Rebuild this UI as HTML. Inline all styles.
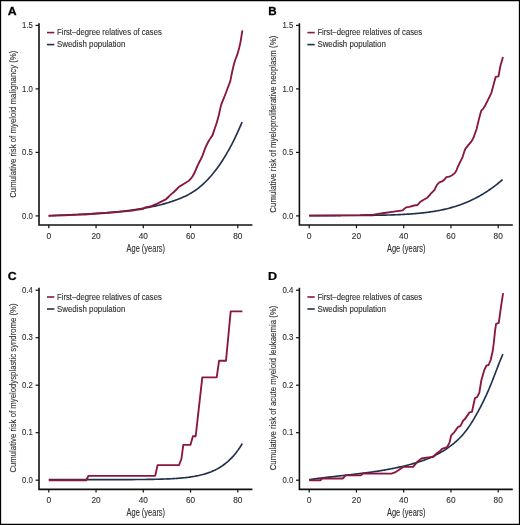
<!DOCTYPE html>
<html><head><meta charset="utf-8"><style>
html,body{margin:0;padding:0;background:#fff;}
#c{position:relative;width:520px;height:525px;overflow:hidden;background:#fff;}
svg{position:absolute;left:0;top:0;filter:blur(0.35px);}
text{font-family:"Liberation Sans", sans-serif;stroke:#303030;stroke-width:0.12px;}
</style></head><body><div id="c">
<svg width="520" height="525" viewBox="0 0 520 525">
<rect x="0" y="0" width="520" height="525" fill="#fff"/>
<g transform="translate(0,0)">
<text transform="translate(7.7,15.2) scale(1.08,1)" x="0" y="0" font-size="11.4" font-weight="bold" fill="#000" style="stroke:#000;stroke-width:0.25px">A</text>
<path d="M39,23.3 V225 H252.4" fill="none" stroke="#111" stroke-width="1.6"/>
<line x1="35.6" y1="25.4" x2="39" y2="25.4" stroke="#111" stroke-width="1.2"/>
<text x="32.9" y="28.2" font-size="9" fill="#303030" text-anchor="end" textLength="10.8" lengthAdjust="spacingAndGlyphs">1.5</text>
<line x1="35.6" y1="88.9" x2="39" y2="88.9" stroke="#111" stroke-width="1.2"/>
<text x="32.9" y="91.7" font-size="9" fill="#303030" text-anchor="end" textLength="10.8" lengthAdjust="spacingAndGlyphs">1.0</text>
<line x1="35.6" y1="152.4" x2="39" y2="152.4" stroke="#111" stroke-width="1.2"/>
<text x="32.9" y="155.2" font-size="9" fill="#303030" text-anchor="end" textLength="10.8" lengthAdjust="spacingAndGlyphs">0.5</text>
<line x1="35.6" y1="215.9" x2="39" y2="215.9" stroke="#111" stroke-width="1.2"/>
<text x="32.9" y="218.7" font-size="9" fill="#303030" text-anchor="end" textLength="10.8" lengthAdjust="spacingAndGlyphs">0.0</text>
<line x1="48.80" y1="225" x2="48.80" y2="228.2" stroke="#111" stroke-width="1.2"/>
<text x="48.80" y="238.6" font-size="9" fill="#303030" text-anchor="middle" textLength="4.8" lengthAdjust="spacingAndGlyphs">0</text>
<line x1="96.05" y1="225" x2="96.05" y2="228.2" stroke="#111" stroke-width="1.2"/>
<text x="96.05" y="238.6" font-size="9" fill="#303030" text-anchor="middle" textLength="9.2" lengthAdjust="spacingAndGlyphs">20</text>
<line x1="143.30" y1="225" x2="143.30" y2="228.2" stroke="#111" stroke-width="1.2"/>
<text x="143.30" y="238.6" font-size="9" fill="#303030" text-anchor="middle" textLength="9.2" lengthAdjust="spacingAndGlyphs">40</text>
<line x1="190.55" y1="225" x2="190.55" y2="228.2" stroke="#111" stroke-width="1.2"/>
<text x="190.55" y="238.6" font-size="9" fill="#303030" text-anchor="middle" textLength="9.2" lengthAdjust="spacingAndGlyphs">60</text>
<line x1="237.80" y1="225" x2="237.80" y2="228.2" stroke="#111" stroke-width="1.2"/>
<text x="237.80" y="238.6" font-size="9" fill="#303030" text-anchor="middle" textLength="9.2" lengthAdjust="spacingAndGlyphs">80</text>
<text x="145.8" y="252" font-size="10.3" fill="#303030" text-anchor="middle" textLength="38.6" lengthAdjust="spacingAndGlyphs">Age (years)</text>
<text transform="translate(15.7,124.2) rotate(-90)" x="0" y="0" font-size="9.5" fill="#303030" text-anchor="middle" textLength="147.2" lengthAdjust="spacingAndGlyphs">Cumulative risk of myeloid malignancy (%)</text>
<line x1="47" y1="32.6" x2="54.3" y2="32.6" stroke="#8a173d" stroke-width="1.6"/>
<line x1="47" y1="44.6" x2="54.3" y2="44.6" stroke="#20304f" stroke-width="1.6"/>
<text x="57.0" y="35.3" font-size="8.2" fill="#303030" textLength="104.8" lengthAdjust="spacingAndGlyphs">First–degree relatives of cases</text>
<text x="57.0" y="47.3" font-size="8.2" fill="#303030" textLength="68.4" lengthAdjust="spacingAndGlyphs">Swedish population</text>
</g>
<path d="M48.80,215.62 L49.80,215.58 L50.80,215.54 L51.80,215.50 L52.80,215.46 L53.80,215.42 L54.80,215.38 L55.80,215.34 L56.80,215.30 L57.80,215.26 L58.80,215.22 L59.80,215.18 L60.80,215.14 L61.80,215.10 L62.80,215.06 L63.80,215.03 L64.80,214.99 L65.80,214.95 L66.80,214.91 L67.80,214.87 L68.80,214.83 L69.80,214.79 L70.80,214.75 L71.80,214.70 L72.80,214.66 L73.80,214.62 L74.80,214.58 L75.80,214.53 L76.80,214.49 L77.80,214.45 L78.80,214.40 L79.80,214.36 L80.80,214.31 L81.80,214.26 L82.80,214.21 L83.80,214.17 L84.80,214.12 L85.80,214.07 L86.80,214.01 L87.80,213.96 L88.80,213.91 L89.80,213.85 L90.80,213.80 L91.80,213.74 L92.80,213.68 L93.80,213.62 L94.80,213.56 L95.80,213.50 L96.80,213.44 L97.80,213.37 L98.80,213.31 L99.80,213.24 L100.80,213.17 L101.80,213.10 L102.80,213.03 L103.80,212.95 L104.80,212.88 L105.80,212.80 L106.80,212.72 L107.80,212.64 L108.80,212.56 L109.80,212.48 L110.80,212.39 L111.80,212.30 L112.80,212.21 L113.80,212.12 L114.80,212.03 L115.80,211.93 L116.80,211.83 L117.80,211.73 L118.80,211.63 L119.80,211.52 L120.80,211.42 L121.80,211.31 L122.80,211.20 L123.80,211.08 L124.80,210.97 L125.80,210.85 L126.80,210.73 L127.80,210.60 L128.80,210.47 L129.80,210.35 L130.80,210.21 L131.80,210.08 L132.80,209.94 L133.80,209.80 L134.80,209.66 L135.80,209.51 L136.80,209.36 L137.80,209.21 L138.80,209.06 L139.80,208.90 L140.80,208.74 L141.80,208.58 L142.80,208.41 L143.80,208.24 L144.80,208.07 L145.80,207.89 L146.80,207.71 L147.80,207.53 L148.80,207.34 L149.80,207.14 L150.80,206.95 L151.80,206.74 L152.80,206.54 L153.80,206.33 L154.80,206.11 L155.80,205.89 L156.80,205.66 L157.80,205.43 L158.80,205.19 L159.80,204.94 L160.80,204.69 L161.80,204.43 L162.80,204.17 L163.80,203.90 L164.80,203.62 L165.80,203.34 L166.80,203.05 L167.80,202.75 L168.80,202.45 L169.80,202.13 L170.80,201.81 L171.80,201.48 L172.80,201.15 L173.80,200.80 L174.80,200.45 L175.80,200.09 L176.80,199.72 L177.80,199.34 L178.80,198.95 L179.80,198.55 L180.80,198.14 L181.80,197.72 L182.80,197.29 L183.80,196.84 L184.80,196.38 L185.80,195.90 L186.80,195.41 L187.80,194.90 L188.80,194.37 L189.80,193.81 L190.80,193.24 L191.80,192.65 L192.80,192.03 L193.80,191.39 L194.80,190.72 L195.80,190.03 L196.80,189.31 L197.80,188.56 L198.80,187.78 L199.80,186.97 L200.80,186.14 L201.80,185.28 L202.80,184.39 L203.80,183.46 L204.80,182.51 L205.80,181.53 L206.80,180.52 L207.80,179.48 L208.80,178.41 L209.80,177.31 L210.80,176.17 L211.80,175.01 L212.80,173.81 L213.80,172.58 L214.80,171.32 L215.80,170.02 L216.80,168.69 L217.80,167.33 L218.80,165.93 L219.80,164.50 L220.80,163.03 L221.80,161.52 L222.80,159.98 L223.80,158.39 L224.80,156.77 L225.80,155.11 L226.80,153.41 L227.80,151.67 L228.80,149.89 L229.80,148.06 L230.80,146.20 L231.80,144.29 L232.80,142.34 L233.80,140.34 L234.80,138.30 L235.80,136.22 L236.80,134.09 L237.80,131.92 L238.80,129.70 L239.80,127.43 L240.80,125.12 L241.80,122.76 L242.10,122.04" fill="none" stroke="#20304f" stroke-width="1.65" stroke-linejoin="round" stroke-linecap="butt"/>
<path d="M48.50,215.90 C51.61,215.78 73.89,214.99 79.60,214.70 C85.31,214.41 101.10,213.33 105.60,213.00 C110.10,212.67 122.16,211.62 124.60,211.40 C127.04,211.18 128.69,210.98 130.00,210.80 C131.31,210.62 136.32,209.83 137.70,209.60 C139.08,209.37 143.03,208.73 143.80,208.50 C144.57,208.27 144.63,207.53 145.40,207.30 C146.17,207.07 150.35,206.55 151.50,206.20 C152.65,205.85 155.82,204.30 156.90,203.80 C157.98,203.30 161.39,201.66 162.30,201.20 C163.21,200.74 165.23,199.78 166.00,199.20 C166.77,198.62 169.09,196.24 170.00,195.40 C170.91,194.56 174.16,191.68 175.10,190.80 C176.04,189.92 178.54,187.28 179.40,186.60 C180.26,185.92 182.75,184.60 183.70,184.00 C184.65,183.40 188.04,181.33 188.90,180.60 C189.76,179.87 191.70,177.56 192.30,176.70 C192.90,175.84 194.39,173.07 194.90,172.00 C195.41,170.93 196.85,167.20 197.40,166.00 C197.95,164.80 199.91,160.98 200.40,160.00 C200.89,159.02 201.78,157.48 202.30,156.20 C202.82,154.92 204.96,148.72 205.60,147.20 C206.24,145.68 208.20,141.93 208.70,141.00 C209.20,140.07 210.23,138.45 210.60,137.90 C210.97,137.35 212.03,136.30 212.40,135.50 C212.77,134.70 213.86,131.21 214.30,129.90 C214.74,128.59 216.37,123.79 216.80,122.40 C217.23,121.01 218.15,117.78 218.60,116.00 C219.05,114.22 220.67,106.65 221.30,104.60 C221.93,102.55 224.27,97.13 224.90,95.50 C225.53,93.87 227.06,89.74 227.60,88.30 C228.14,86.86 229.85,82.73 230.30,81.10 C230.75,79.47 231.65,73.99 232.10,72.00 C232.55,70.01 234.26,63.01 234.80,61.20 C235.34,59.39 236.95,55.71 237.50,53.90 C238.05,52.09 239.81,45.45 240.30,43.10 C240.79,40.75 242.19,31.67 242.40,30.40" fill="none" stroke="#8a173d" stroke-width="1.85" stroke-linejoin="round" stroke-linecap="butt"/>
<g transform="translate(260.4,0)">
<text transform="translate(7.9,15.2) scale(1.02,1)" x="0" y="0" font-size="11.4" font-weight="bold" fill="#000" style="stroke:#000;stroke-width:0.25px">B</text>
<path d="M39,23.3 V225 H252.4" fill="none" stroke="#111" stroke-width="1.6"/>
<line x1="35.6" y1="25.4" x2="39" y2="25.4" stroke="#111" stroke-width="1.2"/>
<text x="32.9" y="28.2" font-size="9" fill="#303030" text-anchor="end" textLength="10.8" lengthAdjust="spacingAndGlyphs">1.5</text>
<line x1="35.6" y1="88.9" x2="39" y2="88.9" stroke="#111" stroke-width="1.2"/>
<text x="32.9" y="91.7" font-size="9" fill="#303030" text-anchor="end" textLength="10.8" lengthAdjust="spacingAndGlyphs">1.0</text>
<line x1="35.6" y1="152.4" x2="39" y2="152.4" stroke="#111" stroke-width="1.2"/>
<text x="32.9" y="155.2" font-size="9" fill="#303030" text-anchor="end" textLength="10.8" lengthAdjust="spacingAndGlyphs">0.5</text>
<line x1="35.6" y1="215.9" x2="39" y2="215.9" stroke="#111" stroke-width="1.2"/>
<text x="32.9" y="218.7" font-size="9" fill="#303030" text-anchor="end" textLength="10.8" lengthAdjust="spacingAndGlyphs">0.0</text>
<line x1="48.80" y1="225" x2="48.80" y2="228.2" stroke="#111" stroke-width="1.2"/>
<text x="48.80" y="238.6" font-size="9" fill="#303030" text-anchor="middle" textLength="4.8" lengthAdjust="spacingAndGlyphs">0</text>
<line x1="96.05" y1="225" x2="96.05" y2="228.2" stroke="#111" stroke-width="1.2"/>
<text x="96.05" y="238.6" font-size="9" fill="#303030" text-anchor="middle" textLength="9.2" lengthAdjust="spacingAndGlyphs">20</text>
<line x1="143.30" y1="225" x2="143.30" y2="228.2" stroke="#111" stroke-width="1.2"/>
<text x="143.30" y="238.6" font-size="9" fill="#303030" text-anchor="middle" textLength="9.2" lengthAdjust="spacingAndGlyphs">40</text>
<line x1="190.55" y1="225" x2="190.55" y2="228.2" stroke="#111" stroke-width="1.2"/>
<text x="190.55" y="238.6" font-size="9" fill="#303030" text-anchor="middle" textLength="9.2" lengthAdjust="spacingAndGlyphs">60</text>
<line x1="237.80" y1="225" x2="237.80" y2="228.2" stroke="#111" stroke-width="1.2"/>
<text x="237.80" y="238.6" font-size="9" fill="#303030" text-anchor="middle" textLength="9.2" lengthAdjust="spacingAndGlyphs">80</text>
<text x="145.8" y="252" font-size="10.3" fill="#303030" text-anchor="middle" textLength="38.6" lengthAdjust="spacingAndGlyphs">Age (years)</text>
<text transform="translate(15.7,124.2) rotate(-90)" x="0" y="0" font-size="9.5" fill="#303030" text-anchor="middle" textLength="176.89999999999998" lengthAdjust="spacingAndGlyphs">Cumulative risk of myeloproliferative neoplasm (%)</text>
<line x1="47" y1="32.6" x2="54.3" y2="32.6" stroke="#8a173d" stroke-width="1.6"/>
<line x1="47" y1="44.6" x2="54.3" y2="44.6" stroke="#20304f" stroke-width="1.6"/>
<text x="57.0" y="35.3" font-size="8.2" fill="#303030" textLength="104.8" lengthAdjust="spacingAndGlyphs">First–degree relatives of cases</text>
<text x="57.0" y="47.3" font-size="8.2" fill="#303030" textLength="68.4" lengthAdjust="spacingAndGlyphs">Swedish population</text>
</g>
<path d="M309.20,215.59 L310.20,215.59 L311.20,215.58 L312.20,215.58 L313.20,215.58 L314.20,215.58 L315.20,215.58 L316.20,215.58 L317.20,215.58 L318.20,215.58 L319.20,215.58 L320.20,215.58 L321.20,215.58 L322.20,215.58 L323.20,215.58 L324.20,215.57 L325.20,215.57 L326.20,215.57 L327.20,215.57 L328.20,215.57 L329.20,215.57 L330.20,215.57 L331.20,215.57 L332.20,215.56 L333.20,215.56 L334.20,215.56 L335.20,215.56 L336.20,215.56 L337.20,215.55 L338.20,215.55 L339.20,215.55 L340.20,215.55 L341.20,215.54 L342.20,215.54 L343.20,215.54 L344.20,215.53 L345.20,215.53 L346.20,215.53 L347.20,215.52 L348.20,215.52 L349.20,215.52 L350.20,215.51 L351.20,215.51 L352.20,215.50 L353.20,215.50 L354.20,215.49 L355.20,215.48 L356.20,215.48 L357.20,215.47 L358.20,215.47 L359.20,215.46 L360.20,215.45 L361.20,215.44 L362.20,215.43 L363.20,215.43 L364.20,215.42 L365.20,215.41 L366.20,215.40 L367.20,215.39 L368.20,215.38 L369.20,215.36 L370.20,215.35 L371.20,215.34 L372.20,215.33 L373.20,215.31 L374.20,215.30 L375.20,215.28 L376.20,215.27 L377.20,215.25 L378.20,215.23 L379.20,215.21 L380.20,215.19 L381.20,215.17 L382.20,215.15 L383.20,215.13 L384.20,215.11 L385.20,215.08 L386.20,215.06 L387.20,215.03 L388.20,215.00 L389.20,214.98 L390.20,214.95 L391.20,214.91 L392.20,214.88 L393.20,214.85 L394.20,214.81 L395.20,214.77 L396.20,214.74 L397.20,214.70 L398.20,214.65 L399.20,214.61 L400.20,214.56 L401.20,214.52 L402.20,214.47 L403.20,214.41 L404.20,214.36 L405.20,214.30 L406.20,214.25 L407.20,214.19 L408.20,214.12 L409.20,214.06 L410.20,213.99 L411.20,213.92 L412.20,213.84 L413.20,213.77 L414.20,213.69 L415.20,213.61 L416.20,213.52 L417.20,213.43 L418.20,213.34 L419.20,213.25 L420.20,213.15 L421.20,213.04 L422.20,212.94 L423.20,212.83 L424.20,212.71 L425.20,212.59 L426.20,212.47 L427.20,212.34 L428.20,212.21 L429.20,212.08 L430.20,211.94 L431.20,211.79 L432.20,211.64 L433.20,211.49 L434.20,211.32 L435.20,211.16 L436.20,210.99 L437.20,210.81 L438.20,210.63 L439.20,210.44 L440.20,210.24 L441.20,210.04 L442.20,209.83 L443.20,209.62 L444.20,209.40 L445.20,209.17 L446.20,208.93 L447.20,208.69 L448.20,208.44 L449.20,208.19 L450.20,207.92 L451.20,207.65 L452.20,207.37 L453.20,207.08 L454.20,206.78 L455.20,206.48 L456.20,206.17 L457.20,205.84 L458.20,205.51 L459.20,205.17 L460.20,204.82 L461.20,204.46 L462.20,204.09 L463.20,203.72 L464.20,203.33 L465.20,202.93 L466.20,202.52 L467.20,202.10 L468.20,201.67 L469.20,201.23 L470.20,200.78 L471.20,200.32 L472.20,199.85 L473.20,199.36 L474.20,198.87 L475.20,198.36 L476.20,197.84 L477.20,197.31 L478.20,196.77 L479.20,196.21 L480.20,195.64 L481.20,195.06 L482.20,194.47 L483.20,193.87 L484.20,193.25 L485.20,192.62 L486.20,191.98 L487.20,191.32 L488.20,190.65 L489.20,189.97 L490.20,189.28 L491.20,188.57 L492.20,187.85 L493.20,187.11 L494.20,186.36 L495.20,185.60 L496.20,184.83 L497.20,184.04 L498.20,183.24 L499.20,182.42 L500.20,181.59 L501.20,180.75 L502.20,179.89 L502.60,179.54" fill="none" stroke="#20304f" stroke-width="1.65" stroke-linejoin="round" stroke-linecap="butt"/>
<path d="M309.2,215.7 L340.0,215.3 L360.0,215.2 L373.5,214.6 L384.2,213.0 L392.3,211.9 L402.7,210.3 L406.1,207.4 L409.4,206.9 L414.2,205.5 L417.6,205.0 L420.0,202.1 L422.9,200.2 L427.2,197.8 L430.6,193.9 L434.4,190.1 L436.9,184.8 L439.3,182.4 L442.1,181.4 L444.5,179.5 L446.4,177.1 L449.3,176.7 L452.1,175.2 L455.0,172.9 L456.4,170.5 L457.9,166.7 L460.2,161.9 L462.6,157.1 L464.0,152.4 L465.5,148.6 L468.3,145.2 L471.7,141.2 L473.5,137.7 L476.6,129.0 L479.5,116.9 L481.3,110.6 L483.1,108.8 L484.9,106.1 L488.5,98.8 L491.2,93.4 L493.9,83.5 L495.7,76.8 L498.5,76.4 L500.3,66.3 L503.0,56.9" fill="none" stroke="#8a173d" stroke-width="1.85" stroke-linejoin="round" stroke-linecap="butt"/>
<g transform="translate(0,264.4)">
<text transform="translate(7.7,15.299999999999999) scale(1.08,1)" x="0" y="0" font-size="11.4" font-weight="bold" fill="#000" style="stroke:#000;stroke-width:0.25px">C</text>
<path d="M39,23.3 V225 H252.4" fill="none" stroke="#111" stroke-width="1.6"/>
<line x1="35.6" y1="25.80000000000001" x2="39" y2="25.80000000000001" stroke="#111" stroke-width="1.2"/>
<text x="32.9" y="28.6" font-size="9" fill="#303030" text-anchor="end" textLength="10.8" lengthAdjust="spacingAndGlyphs">0.4</text>
<line x1="35.6" y1="73.30000000000001" x2="39" y2="73.30000000000001" stroke="#111" stroke-width="1.2"/>
<text x="32.9" y="76.1" font-size="9" fill="#303030" text-anchor="end" textLength="10.8" lengthAdjust="spacingAndGlyphs">0.3</text>
<line x1="35.6" y1="120.80000000000001" x2="39" y2="120.80000000000001" stroke="#111" stroke-width="1.2"/>
<text x="32.9" y="123.6" font-size="9" fill="#303030" text-anchor="end" textLength="10.8" lengthAdjust="spacingAndGlyphs">0.2</text>
<line x1="35.6" y1="168.3" x2="39" y2="168.3" stroke="#111" stroke-width="1.2"/>
<text x="32.9" y="171.1" font-size="9" fill="#303030" text-anchor="end" textLength="10.8" lengthAdjust="spacingAndGlyphs">0.1</text>
<line x1="35.6" y1="215.8" x2="39" y2="215.8" stroke="#111" stroke-width="1.2"/>
<text x="32.9" y="218.6" font-size="9" fill="#303030" text-anchor="end" textLength="10.8" lengthAdjust="spacingAndGlyphs">0.0</text>
<line x1="48.80" y1="225" x2="48.80" y2="228.2" stroke="#111" stroke-width="1.2"/>
<text x="48.80" y="238.6" font-size="9" fill="#303030" text-anchor="middle" textLength="4.8" lengthAdjust="spacingAndGlyphs">0</text>
<line x1="96.05" y1="225" x2="96.05" y2="228.2" stroke="#111" stroke-width="1.2"/>
<text x="96.05" y="238.6" font-size="9" fill="#303030" text-anchor="middle" textLength="9.2" lengthAdjust="spacingAndGlyphs">20</text>
<line x1="143.30" y1="225" x2="143.30" y2="228.2" stroke="#111" stroke-width="1.2"/>
<text x="143.30" y="238.6" font-size="9" fill="#303030" text-anchor="middle" textLength="9.2" lengthAdjust="spacingAndGlyphs">40</text>
<line x1="190.55" y1="225" x2="190.55" y2="228.2" stroke="#111" stroke-width="1.2"/>
<text x="190.55" y="238.6" font-size="9" fill="#303030" text-anchor="middle" textLength="9.2" lengthAdjust="spacingAndGlyphs">60</text>
<line x1="237.80" y1="225" x2="237.80" y2="228.2" stroke="#111" stroke-width="1.2"/>
<text x="237.80" y="238.6" font-size="9" fill="#303030" text-anchor="middle" textLength="9.2" lengthAdjust="spacingAndGlyphs">80</text>
<text x="145.8" y="252" font-size="10.3" fill="#303030" text-anchor="middle" textLength="38.6" lengthAdjust="spacingAndGlyphs">Age (years)</text>
<text transform="translate(15.7,123.6) rotate(-90)" x="0" y="0" font-size="9.5" fill="#303030" text-anchor="middle" textLength="169.2" lengthAdjust="spacingAndGlyphs">Cumulative risk of myelodysplastic syndrome (%)</text>
<line x1="47" y1="32.6" x2="54.3" y2="32.6" stroke="#8a173d" stroke-width="1.6"/>
<line x1="47" y1="44.6" x2="54.3" y2="44.6" stroke="#20304f" stroke-width="1.6"/>
<text x="57.0" y="35.3" font-size="8.2" fill="#303030" textLength="104.8" lengthAdjust="spacingAndGlyphs">First–degree relatives of cases</text>
<text x="57.0" y="47.3" font-size="8.2" fill="#303030" textLength="68.4" lengthAdjust="spacingAndGlyphs">Swedish population</text>
</g>
<path d="M48.80,479.65 L49.80,479.65 L50.80,479.65 L51.80,479.65 L52.80,479.65 L53.80,479.65 L54.80,479.65 L55.80,479.65 L56.80,479.65 L57.80,479.65 L58.80,479.65 L59.80,479.65 L60.80,479.65 L61.80,479.65 L62.80,479.65 L63.80,479.65 L64.80,479.65 L65.80,479.65 L66.80,479.65 L67.80,479.65 L68.80,479.65 L69.80,479.65 L70.80,479.65 L71.80,479.65 L72.80,479.65 L73.80,479.65 L74.80,479.65 L75.80,479.65 L76.80,479.65 L77.80,479.65 L78.80,479.65 L79.80,479.65 L80.80,479.65 L81.80,479.65 L82.80,479.65 L83.80,479.65 L84.80,479.65 L85.80,479.65 L86.80,479.65 L87.80,479.65 L88.80,479.65 L89.80,479.65 L90.80,479.65 L91.80,479.65 L92.80,479.64 L93.80,479.64 L94.80,479.64 L95.80,479.64 L96.80,479.64 L97.80,479.64 L98.80,479.64 L99.80,479.64 L100.80,479.64 L101.80,479.64 L102.80,479.64 L103.80,479.64 L104.80,479.64 L105.80,479.64 L106.80,479.63 L107.80,479.63 L108.80,479.63 L109.80,479.63 L110.80,479.63 L111.80,479.63 L112.80,479.63 L113.80,479.62 L114.80,479.62 L115.80,479.62 L116.80,479.62 L117.80,479.62 L118.80,479.61 L119.80,479.61 L120.80,479.61 L121.80,479.61 L122.80,479.60 L123.80,479.60 L124.80,479.60 L125.80,479.59 L126.80,479.59 L127.80,479.58 L128.80,479.58 L129.80,479.57 L130.80,479.57 L131.80,479.56 L132.80,479.56 L133.80,479.55 L134.80,479.55 L135.80,479.54 L136.80,479.53 L137.80,479.53 L138.80,479.52 L139.80,479.51 L140.80,479.50 L141.80,479.49 L142.80,479.48 L143.80,479.47 L144.80,479.46 L145.80,479.45 L146.80,479.43 L147.80,479.42 L148.80,479.41 L149.80,479.39 L150.80,479.37 L151.80,479.36 L152.80,479.34 L153.80,479.32 L154.80,479.30 L155.80,479.28 L156.80,479.25 L157.80,479.23 L158.80,479.21 L159.80,479.18 L160.80,479.15 L161.80,479.12 L162.80,479.09 L163.80,479.05 L164.80,479.02 L165.80,478.98 L166.80,478.94 L167.80,478.90 L168.80,478.86 L169.80,478.81 L170.80,478.76 L171.80,478.71 L172.80,478.65 L173.80,478.59 L174.80,478.53 L175.80,478.47 L176.80,478.40 L177.80,478.33 L178.80,478.25 L179.80,478.17 L180.80,478.09 L181.80,478.00 L182.80,477.90 L183.80,477.80 L184.80,477.70 L185.80,477.59 L186.80,477.47 L187.80,477.35 L188.80,477.22 L189.80,477.09 L190.80,476.94 L191.80,476.79 L192.80,476.64 L193.80,476.47 L194.80,476.29 L195.80,476.11 L196.80,475.92 L197.80,475.71 L198.80,475.50 L199.80,475.27 L200.80,475.04 L201.80,474.79 L202.80,474.52 L203.80,474.25 L204.80,473.96 L205.80,473.66 L206.80,473.34 L207.80,473.00 L208.80,472.65 L209.80,472.28 L210.80,471.90 L211.80,471.49 L212.80,471.06 L213.80,470.62 L214.80,470.15 L215.80,469.65 L216.80,469.14 L217.80,468.60 L218.80,468.03 L219.80,467.43 L220.80,466.81 L221.80,466.16 L222.80,465.47 L223.80,464.75 L224.80,464.00 L225.80,463.22 L226.80,462.39 L227.80,461.53 L228.80,460.63 L229.80,459.68 L230.80,458.69 L231.80,457.66 L232.80,456.57 L233.80,455.44 L234.80,454.26 L235.80,453.02 L236.80,451.72 L237.80,450.37 L238.80,448.95 L239.80,447.48 L240.80,445.93 L241.80,444.32 L242.30,443.48" fill="none" stroke="#20304f" stroke-width="1.65" stroke-linejoin="round" stroke-linecap="butt"/>
<path d="M48.8,480.2 L86.2,480.2 L88.5,475.8 L155.2,475.8 L157.6,465.1 L179.0,465.1 L181.4,459.0 L183.3,444.8 L190.5,444.8 L192.9,436.2 L195.7,436.2 L202.3,377.3 L216.7,377.3 L219.1,360.7 L226.0,360.7 L230.7,311.3 L242.4,311.3" fill="none" stroke="#8a173d" stroke-width="1.85" stroke-linejoin="round" stroke-linecap="butt"/>
<g transform="translate(260.4,264.4)">
<text transform="translate(7.7,15.299999999999999) scale(1.1,1)" x="0" y="0" font-size="11.4" font-weight="bold" fill="#000" style="stroke:#000;stroke-width:0.25px">D</text>
<path d="M39,23.3 V225 H252.4" fill="none" stroke="#111" stroke-width="1.6"/>
<line x1="35.6" y1="25.80000000000001" x2="39" y2="25.80000000000001" stroke="#111" stroke-width="1.2"/>
<text x="32.9" y="28.6" font-size="9" fill="#303030" text-anchor="end" textLength="10.8" lengthAdjust="spacingAndGlyphs">0.4</text>
<line x1="35.6" y1="73.30000000000001" x2="39" y2="73.30000000000001" stroke="#111" stroke-width="1.2"/>
<text x="32.9" y="76.1" font-size="9" fill="#303030" text-anchor="end" textLength="10.8" lengthAdjust="spacingAndGlyphs">0.3</text>
<line x1="35.6" y1="120.80000000000001" x2="39" y2="120.80000000000001" stroke="#111" stroke-width="1.2"/>
<text x="32.9" y="123.6" font-size="9" fill="#303030" text-anchor="end" textLength="10.8" lengthAdjust="spacingAndGlyphs">0.2</text>
<line x1="35.6" y1="168.3" x2="39" y2="168.3" stroke="#111" stroke-width="1.2"/>
<text x="32.9" y="171.1" font-size="9" fill="#303030" text-anchor="end" textLength="10.8" lengthAdjust="spacingAndGlyphs">0.1</text>
<line x1="35.6" y1="215.8" x2="39" y2="215.8" stroke="#111" stroke-width="1.2"/>
<text x="32.9" y="218.6" font-size="9" fill="#303030" text-anchor="end" textLength="10.8" lengthAdjust="spacingAndGlyphs">0.0</text>
<line x1="48.80" y1="225" x2="48.80" y2="228.2" stroke="#111" stroke-width="1.2"/>
<text x="48.80" y="238.6" font-size="9" fill="#303030" text-anchor="middle" textLength="4.8" lengthAdjust="spacingAndGlyphs">0</text>
<line x1="96.05" y1="225" x2="96.05" y2="228.2" stroke="#111" stroke-width="1.2"/>
<text x="96.05" y="238.6" font-size="9" fill="#303030" text-anchor="middle" textLength="9.2" lengthAdjust="spacingAndGlyphs">20</text>
<line x1="143.30" y1="225" x2="143.30" y2="228.2" stroke="#111" stroke-width="1.2"/>
<text x="143.30" y="238.6" font-size="9" fill="#303030" text-anchor="middle" textLength="9.2" lengthAdjust="spacingAndGlyphs">40</text>
<line x1="190.55" y1="225" x2="190.55" y2="228.2" stroke="#111" stroke-width="1.2"/>
<text x="190.55" y="238.6" font-size="9" fill="#303030" text-anchor="middle" textLength="9.2" lengthAdjust="spacingAndGlyphs">60</text>
<line x1="237.80" y1="225" x2="237.80" y2="228.2" stroke="#111" stroke-width="1.2"/>
<text x="237.80" y="238.6" font-size="9" fill="#303030" text-anchor="middle" textLength="9.2" lengthAdjust="spacingAndGlyphs">80</text>
<text x="145.8" y="252" font-size="10.3" fill="#303030" text-anchor="middle" textLength="38.6" lengthAdjust="spacingAndGlyphs">Age (years)</text>
<text transform="translate(15.7,123.6) rotate(-90)" x="0" y="0" font-size="9.5" fill="#303030" text-anchor="middle" textLength="164.7" lengthAdjust="spacingAndGlyphs">Cumulative risk of acute myeloid leukaemia (%)</text>
<line x1="47" y1="32.6" x2="54.3" y2="32.6" stroke="#8a173d" stroke-width="1.6"/>
<line x1="47" y1="44.6" x2="54.3" y2="44.6" stroke="#20304f" stroke-width="1.6"/>
<text x="57.0" y="35.3" font-size="8.2" fill="#303030" textLength="104.8" lengthAdjust="spacingAndGlyphs">First–degree relatives of cases</text>
<text x="57.0" y="47.3" font-size="8.2" fill="#303030" textLength="68.4" lengthAdjust="spacingAndGlyphs">Swedish population</text>
</g>
<path d="M309.20,479.64 L310.20,479.49 L311.20,479.35 L312.20,479.21 L313.20,479.07 L314.20,478.93 L315.20,478.80 L316.20,478.66 L317.20,478.53 L318.20,478.40 L319.20,478.27 L320.20,478.15 L321.20,478.02 L322.20,477.90 L323.20,477.77 L324.20,477.65 L325.20,477.53 L326.20,477.41 L327.20,477.29 L328.20,477.18 L329.20,477.06 L330.20,476.94 L331.20,476.83 L332.20,476.72 L333.20,476.60 L334.20,476.49 L335.20,476.38 L336.20,476.26 L337.20,476.15 L338.20,476.04 L339.20,475.93 L340.20,475.82 L341.20,475.71 L342.20,475.60 L343.20,475.48 L344.20,475.37 L345.20,475.26 L346.20,475.15 L347.20,475.04 L348.20,474.93 L349.20,474.81 L350.20,474.70 L351.20,474.59 L352.20,474.47 L353.20,474.36 L354.20,474.24 L355.20,474.13 L356.20,474.01 L357.20,473.89 L358.20,473.77 L359.20,473.65 L360.20,473.53 L361.20,473.40 L362.20,473.28 L363.20,473.15 L364.20,473.03 L365.20,472.90 L366.20,472.77 L367.20,472.63 L368.20,472.50 L369.20,472.37 L370.20,472.23 L371.20,472.09 L372.20,471.95 L373.20,471.80 L374.20,471.66 L375.20,471.51 L376.20,471.36 L377.20,471.21 L378.20,471.06 L379.20,470.90 L380.20,470.74 L381.20,470.58 L382.20,470.41 L383.20,470.24 L384.20,470.07 L385.20,469.90 L386.20,469.73 L387.20,469.55 L388.20,469.37 L389.20,469.18 L390.20,468.99 L391.20,468.80 L392.20,468.61 L393.20,468.41 L394.20,468.21 L395.20,468.00 L396.20,467.79 L397.20,467.58 L398.20,467.36 L399.20,467.14 L400.20,466.92 L401.20,466.69 L402.20,466.46 L403.20,466.22 L404.20,465.99 L405.20,465.74 L406.20,465.49 L407.20,465.24 L408.20,464.98 L409.20,464.72 L410.20,464.46 L411.20,464.19 L412.20,463.91 L413.20,463.63 L414.20,463.34 L415.20,463.05 L416.20,462.75 L417.20,462.45 L418.20,462.14 L419.20,461.82 L420.20,461.49 L421.20,461.16 L422.20,460.81 L423.20,460.46 L424.20,460.10 L425.20,459.73 L426.20,459.35 L427.20,458.95 L428.20,458.55 L429.20,458.14 L430.20,457.71 L431.20,457.27 L432.20,456.82 L433.20,456.36 L434.20,455.89 L435.20,455.40 L436.20,454.89 L437.20,454.38 L438.20,453.85 L439.20,453.30 L440.20,452.74 L441.20,452.16 L442.20,451.57 L443.20,450.96 L444.20,450.33 L445.20,449.69 L446.20,449.03 L447.20,448.35 L448.20,447.65 L449.20,446.93 L450.20,446.20 L451.20,445.44 L452.20,444.67 L453.20,443.87 L454.20,443.06 L455.20,442.21 L456.20,441.34 L457.20,440.44 L458.20,439.50 L459.20,438.53 L460.20,437.52 L461.20,436.48 L462.20,435.39 L463.20,434.25 L464.20,433.07 L465.20,431.84 L466.20,430.56 L467.20,429.22 L468.20,427.83 L469.20,426.38 L470.20,424.88 L471.20,423.33 L472.20,421.74 L473.20,420.09 L474.20,418.41 L475.20,416.68 L476.20,414.92 L477.20,413.12 L478.20,411.29 L479.20,409.43 L480.20,407.53 L481.20,405.60 L482.20,403.64 L483.20,401.63 L484.20,399.57 L485.20,397.47 L486.20,395.32 L487.20,393.11 L488.20,390.85 L489.20,388.53 L490.20,386.14 L491.20,383.70 L492.20,381.19 L493.20,378.64 L494.20,376.05 L495.20,373.44 L496.20,370.82 L497.20,368.19 L498.20,365.60 L499.20,363.03 L500.20,360.53 L501.20,358.10 L502.20,355.76 L502.90,354.18" fill="none" stroke="#20304f" stroke-width="1.65" stroke-linejoin="round" stroke-linecap="butt"/>
<path d="M309.2,480.2 L320.4,480.2 L322.3,478.5 L342.7,478.5 L345.8,475.4 L360.8,475.4 L363.1,473.5 L391.5,473.6 L395.4,472.2 L403.1,466.9 L413.1,466.9 L416.9,462.3 L421.5,458.5 L426.2,457.7 L433.1,457.0 L435.4,454.6 L437.3,453.1 L440.4,450.8 L441.9,448.8 L445.8,447.7 L447.3,446.9 L449.6,442.3 L451.2,435.4 L454.2,432.3 L458.1,426.9 L460.4,426.2 L462.3,422.3 L463.5,420.0 L464.5,419.6 L469.5,412.4 L472.0,411.8 L473.6,404.3 L475.0,398.0 L477.1,397.1 L479.3,392.9 L481.4,380.0 L484.3,370.0 L486.4,365.7 L488.6,365.0 L490.7,360.0 L492.9,350.0 L494.0,341.0 L495.1,330.3 L496.1,323.8 L498.8,322.9 L500.9,307.4 L503.1,293.1" fill="none" stroke="#8a173d" stroke-width="1.85" stroke-linejoin="round" stroke-linecap="butt"/>
<path d="M0.5,0.5 H519.5 V524.4 H0.5 Z" fill="none" stroke="#000" stroke-width="1.3"/>
</svg></div></body></html>
